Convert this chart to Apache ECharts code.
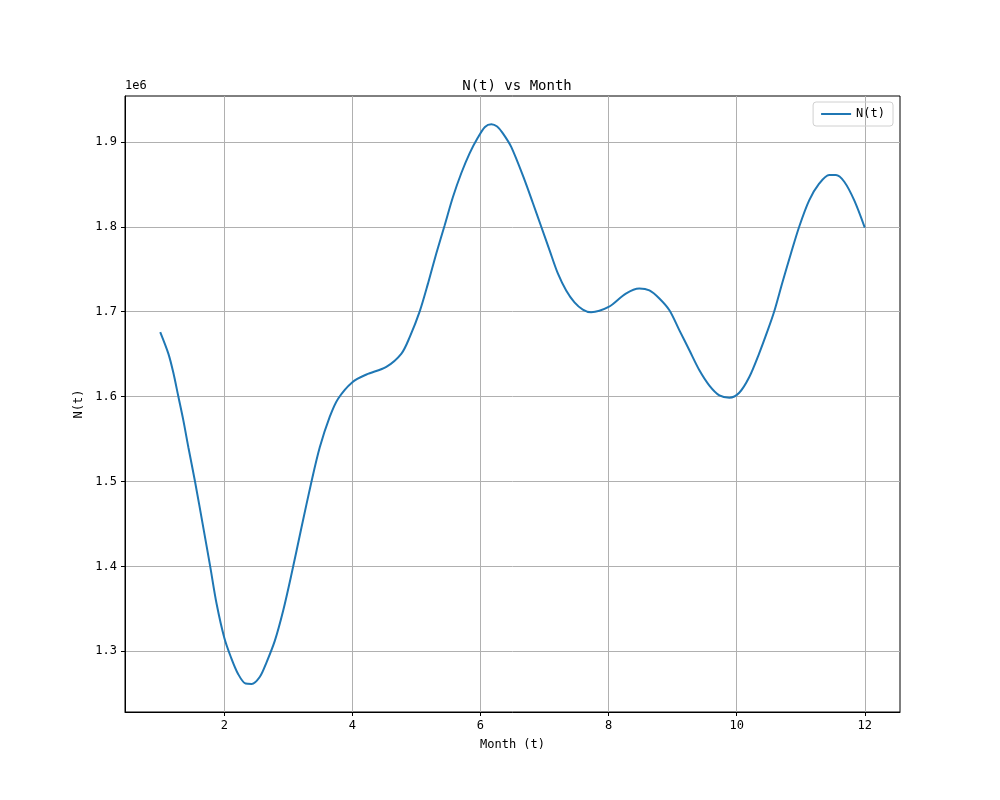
<!DOCTYPE html>
<html>
<head>
<meta charset="utf-8">
<script src="https://cdn.jsdelivr.net/npm/echarts@6/dist/echarts.min.js"></script>
<style>html,body{margin:0;padding:0;background:#fff;}#c{width:1000px;height:800px;}</style>
</head>
<body>
<div id="c"></div>
<script>
// Month values (t)
var months = [1.0,1.127,1.205,1.283,1.361,1.44,1.543,1.672,1.78,1.88,2.0,2.104,2.218,2.333,2.427,2.556,2.66,2.79,2.92,3.05,3.206,3.362,3.49,3.646,3.777,4.0,4.22,4.53,4.766,4.895,5.05,5.18,5.31,5.44,5.57,5.70,5.83,5.96,6.07,6.17,6.26,6.35,6.48,6.689,6.818,6.949,7.078,7.208,7.338,7.468,7.598,7.728,8.0,8.27,8.48,8.637,8.793,8.95,9.106,9.262,9.418,9.574,9.73,9.886,10.04,10.197,10.35,10.48,10.587,10.716,10.847,10.976,11.132,11.29,11.445,11.55,11.68,11.836,12.0];
// N(t) values
var nValues = [1676000,1650600,1628000,1600000,1572000,1540000,1500000,1446000,1400000,1356000,1316000,1293000,1273000,1262000,1261500,1270000,1287000,1312500,1348000,1391000,1446000,1500000,1540000,1576000,1597500,1617000,1626000,1635000,1650600,1670000,1700000,1733000,1768500,1801500,1835000,1863000,1886500,1905000,1917500,1920700,1918000,1910000,1894000,1855000,1828000,1800000,1772500,1745000,1725000,1711000,1702500,1699300,1705500,1721300,1727200,1725000,1715500,1701600,1678000,1654500,1631000,1613000,1601400,1598700,1604500,1623000,1650600,1677000,1700500,1735000,1768500,1800000,1831000,1851000,1861000,1861000,1853000,1831000,1799000];
var xTicks = [2,4,6,8,10,12];
var yTicks = [1300000,1400000,1500000,1600000,1700000,1800000,1900000];

var FONT = 'DejaVu Sans Mono';
var data = months.map(function(m,i){return [m, nValues[i]];});

var chart = echarts.init(document.getElementById('c'), null, {renderer:'canvas'});
chart.setOption({
  animation:false,
  backgroundColor:'#fff',
  textStyle:{fontFamily:FONT},
  title:{text:'N(t) vs Month', left:512, top:74, textAlign:'center',
    textStyle:{fontFamily:FONT, fontSize:14, fontWeight:'normal', color:'#000'}},
  legend:{right:107, top:102, orient:'vertical', data:['N(t)'],
    itemWidth:30, itemHeight:2, itemGap:4,
    icon:'rect',
    padding:[6,8,6,8], borderColor:'#d0d0d0', borderWidth:1, borderRadius:3,
    textStyle:{fontFamily:FONT, fontSize:12, color:'#000'}},
  graphic:[{type:'text', left:125, top:80, style:{text:'1e6', font:'12px '+FONT, fill:'#000'}}],
  grid:{left:125, right:100, top:96, bottom:88, show:true, borderColor:'#000', borderWidth:1, backgroundColor:'transparent'},
  xAxis:{type:'value', min:0.45, max:12.55,
    name:'Month (t)', nameLocation:'middle', nameGap:27,
    nameTextStyle:{fontFamily:FONT, fontSize:12, color:'#000'},
    axisLine:{show:true, lineStyle:{color:'#000', width:1}},
    axisTick:{show:true, length:4, customValues:xTicks, lineStyle:{color:'#000'}},
    axisLabel:{customValues:xTicks, margin:8, fontFamily:FONT, fontSize:12, color:'#000',
      formatter:function(v){return String(v);}},
    splitLine:{show:true, lineStyle:{color:'#b0b0b0', width:1}}},
  yAxis:{type:'value', min:1228500, max:1954000,
    name:'N(t)', nameLocation:'middle', nameGap:37, nameRotate:90,
    nameTextStyle:{fontFamily:FONT, fontSize:12, color:'#000'},
    axisLine:{show:true, lineStyle:{color:'#000', width:1}},
    axisTick:{show:true, length:4, customValues:yTicks, lineStyle:{color:'#000'}},
    axisLabel:{customValues:yTicks, margin:8, fontFamily:FONT, fontSize:12, color:'#000',
      formatter:function(v){return (v/1e6).toFixed(1);}},
    splitLine:{show:true, lineStyle:{color:'#b0b0b0', width:1}}},
  series:[{name:'N(t)', type:'line', data:data, showSymbol:false, smooth:0.3,
    lineStyle:{color:'#1f77b4', width:2}, itemStyle:{color:'#1f77b4'}}]
});
</script>
</body>
</html>
